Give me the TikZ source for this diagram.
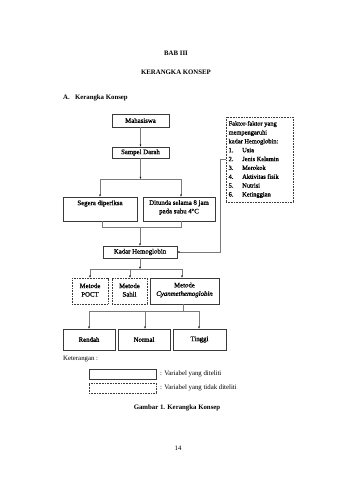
\documentclass[tikz,border=0pt]{standalone}
\usepackage{fontspec}
\setmainfont{Liberation Serif}
\newfontfamily\boxfont[FakeBold=1.2]{Liberation Serif}
\usetikzlibrary{arrows.meta,fit}
\definecolor{boxgray}{HTML}{3A3A3A}
\definecolor{linegray}{HTML}{7A7A7A}
\begin{document}
\begin{tikzpicture}[x=0.6196mm,y=-0.6196mm,
  box/.style={draw=boxgray,line width=0.9pt,inner sep=0pt},
  dbox/.style={draw=boxgray,line width=0.8pt,dash pattern=on 1.6pt off 1.2pt,inner sep=0pt},
  conn/.style={draw=linegray,line width=0.8pt},
  arr/.style={conn,-{Latex[length=3.6pt,width=3.2pt,color=black]}},
  txt/.style={font=\fontsize{12}{14.5}\selectfont,align=center,inner sep=0pt},
  btxt/.style={font=\boxfont\fontsize{12}{15}\selectfont,align=center,inner sep=0pt},
  head/.style={font=\fontsize{12}{14}\selectfont\bfseries,inner sep=0pt}
]
\fill[white] (0,0) rectangle (339,480);
\useasboundingbox (0,0) rectangle (339,480);

% headings
\node[head] (bab) at (176,53) {BAB III};
\node[head] (judul) at (176,72) {KERANGKA KONSEP};
\node[head,anchor=west] (subjudul) at (63,98) {\makebox[21pt][l]{A.}Kerangka Konsep};

% main boxes
\node[box,fit={(112,114)(169,127)}] (mah) {};
\node[btxt] (mahT) at (140.5,120.5) {Mahasiswa};
\node[box,fit={(112,147)(169,158)}] (sam) {};
\node[btxt] (samT) at (140.5,152.5) {Sampel Darah};
\node[box,fit={(63,197)(137,221)}] (seg) {};
\node[btxt] (segT) at (100,203.5) {Segera diperiksa};
\node[box,fit={(143,197)(215,221)}] (dit) {};
\node[btxt] (ditT) at (179,207.5) {Ditunda selama 8 jam\\pada suhu 4\textsuperscript{o}C};
\node[box,fit={(103,246)(177,258)}] (kad) {};
\node[btxt] (kadT) at (140,252) {Kadar Hemoglobin};

% factor box
\node[dbox,fit={(226,117)(293,202)}] (fak) {};
\node[anchor=west,align=left,inner sep=0pt,font=\boxfont\fontsize{11.3}{15.6}\selectfont] (fakT) at (228.5,159.5)
 {Faktor-faktor yang\\mempengaruhi\\kadar Hemoglobin:\\
  \makebox[24pt][l]{1.}Usia\\
  \makebox[24pt][l]{2.}Jenis Kelamin\\
  \makebox[24pt][l]{3.}Merokok\\
  \makebox[24pt][l]{4.}Aktivitas fisik\\
  \makebox[24pt][l]{5.}Nutrisi\\
  \makebox[24pt][l]{6.}Ketinggian};

% methods
\node[dbox,fit={(72,278)(108,304)}] (poct) {};
\node[btxt] (poctT) at (90,290) {Metode\\POCT};
\node[dbox,fit={(112,278)(147,304)}] (sah) {};
\node[btxt] (sahT) at (129.5,290) {Metode\\Sahli};
\node[box,fit={(150,278)(219,304)}] (cya) {};
\node[btxt] (cyaT) at (184.5,290) {Metode\\\textit{Cyanmethemoglobin}};

% results
\node[box,fit={(63,329)(115,350)}] (ren) {};
\node[btxt] (renT) at (89,339.5) {Rendah};
\node[box,fit={(118,329)(170,350)}] (nor) {};
\node[btxt] (norT) at (144,339.5) {Normal};
\node[box,fit={(173,329)(226,350)}] (tin) {};
\node[btxt] (tinT) at (199.5,339.5) {Tinggi};

% junction coordinates
\coordinate (j1) at (140.5,179);
\coordinate (j1l) at (100,179);
\coordinate (j1r) at (181,179);
\coordinate (j2l) at (102,227);
\coordinate (j2r) at (181,227);
\coordinate (j2) at (140,227);
\coordinate (f1) at (220,159);
\coordinate (f2) at (220,252);
\coordinate (j3) at (140,269);
\coordinate (j3l) at (90,269);
\coordinate (j3m) at (130,269);
\coordinate (j3r) at (182,269);
\coordinate (j4) at (183,311);
\coordinate (j4l) at (89,311);
\coordinate (j4m) at (145,311);
\coordinate (j4r) at (199,311);

% connectors
\draw[arr] (mah) -- (sam);
\draw[arr] (sam) -- (j1);
\draw[conn] (j1l) -- (j1r);
\draw[arr] (j1l) -- (j1l |- seg.north);
\draw[arr] (j1r) -- (j1r |- dit.north);
\draw[conn] (j2l |- seg.south) -- (j2l) -- (j2r) -- (j2r |- dit.south);
\draw[arr] (j2) -- (j2 |- kad.north);
\draw[arr] (fak.west |- f1) -- (f1) -- (f2) -- (kad.east |- f2);
\draw[arr] (kad) -- (j3);
\draw[conn] (j3l) -- (j3r);
\draw[arr] (j3l) -- (j3l |- poct.north);
\draw[arr] (j3m) -- (j3m |- sah.north);
\draw[arr] (j3r) -- (j3r |- cya.north);
\draw[conn] (j4 |- cya.south) -- (j4);
\draw[conn] (j4l) -- (j4r);
\draw[arr] (j4l) -- (j4l |- ren.north);
\draw[arr] (j4m) -- (j4m |- nor.north);
\draw[arr] (j4r) -- (j4r |- tin.north);

% legend
\node[txt,anchor=west] (ket) at (63,359) {Keterangan :};
\node[box,fit={(89,369)(156,379)}] (leg1) {};
\node[txt,anchor=west] (leg1T) at (160,374) {: Variabel yang diteliti};
\node[dbox,fit={(89,383)(156,393)}] (leg2) {};
\node[txt,anchor=west] (leg2T) at (160,388) {: Variabel yang tidak diteliti};

\node[head] (gam) at (177,408) {Gambar 1. Kerangka Konsep};
\node[txt] (hal) at (178,448) {14};
\end{tikzpicture}
\end{document}
